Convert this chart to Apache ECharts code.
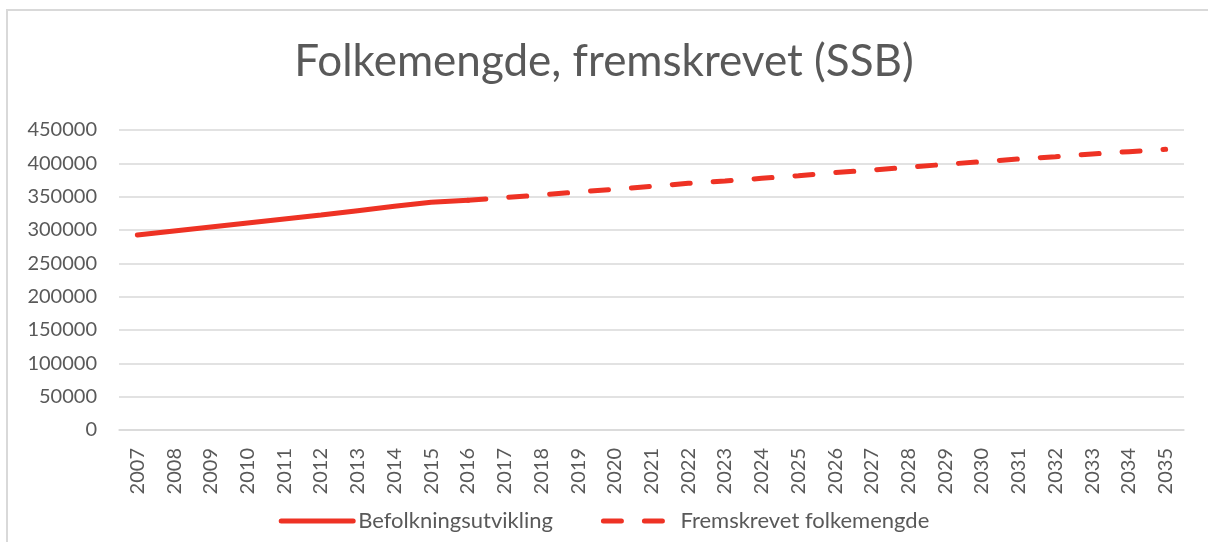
<!DOCTYPE html>
<html>
<head>
<meta charset="utf-8">
<script src="https://cdn.jsdelivr.net/npm/echarts@6/dist/echarts.min.js"></script>
<style>
  html, body { margin: 0; padding: 0; background: #fff; }
  #frame { position: absolute; left: 6px; top: 9px; width: 1220px; height: 560px;
           border-left: 2px solid #d9d9d9; border-top: 2px solid #d9d9d9; }
  #chart { position: absolute; left: 0; top: 0; width: 1208px; height: 542px; }
</style>
</head>
<body>
<div id="frame"></div>
<div id="chart"></div>
<script>
// årstall på x-aksen
var years = ['2007', '2008', '2009', '2010', '2011', '2012', '2013', '2014', '2015', '2016',
  '2017', '2018', '2019', '2020', '2021', '2022', '2023', '2024', '2025', '2026',
  '2027', '2028', '2029', '2030', '2031', '2032', '2033', '2034', '2035']

// 2007-2016, faktisk utvikling
var befolkning = [292500, 298500, 304500, 310500, 316500, 322500, 329000, 335500, 341500, 344500]

// 2016-2035, fremskrevet
var fremskrevet = [344500, 348500, 352500, 357000, 361000, 365500, 370000, 373500, 377500, 381500,
  386000, 390000, 394000, 398500, 402500, 406500, 410000, 414000, 417500, 421000]

var red = '#ee3224'
var grey = '#595959'
var font = 'Lato, "Open Sans", sans-serif'

// fyll ut med null så seriene havner på riktig år
var solidData = years.map(function (y, i) { return i < befolkning.length ? befolkning[i] : null })
var startIdx = years.indexOf('2016')
var dashData = years.map(function (y, i) { return i >= startIdx ? fremskrevet[i - startIdx] : null })

var myChart = echarts.init(document.getElementById('chart'))
myChart.setOption({
  animation: false,
  title: {
    text: 'Folkemengde, fremskrevet (SSB)',
    left: 'center',
    top: 35,
    textStyle: { color: grey, fontFamily: font, fontWeight: 'normal', fontSize: 44 }
  },
  legend: {
    bottom: 5,
    left: 'center',
    itemWidth: 72,
    itemHeight: 14,
    itemGap: 48,
    itemStyle: { opacity: 0 },
    lineStyle: { width: 5, cap: 'round' },
    textStyle: { color: grey, fontFamily: font, fontSize: 22 },
    data: ['Befolkningsutvikling', 'Fremskrevet folkemengde']
  },
  grid: { left: 119, right: 24, top: 130, bottom: 112 },
  xAxis: {
    type: 'category',
    data: years,
    axisLine: { lineStyle: { color: '#d9d9d9', width: 1.5 } },
    axisTick: { show: false },
    axisLabel: { rotate: 90, margin: 18, color: grey, fontFamily: font, fontSize: 20 }
  },
  yAxis: {
    type: 'value',
    min: 0,
    max: 450000,
    interval: 50000,
    axisLine: { show: false },
    axisTick: { show: false },
    axisLabel: {
      margin: 22, color: grey, fontFamily: font, fontSize: 20,
      formatter: function (v) { return String(v) }
    },
    splitLine: { lineStyle: { color: '#d9d9d9', width: 1.5 } }
  },
  series: [
    {
      name: 'Befolkningsutvikling',
      type: 'line',
      data: solidData,
      symbol: 'none',
      itemStyle: { color: 'rgba(0,0,0,0)' },
      lineStyle: { color: red, width: 5, cap: 'round' }
    },
    {
      name: 'Fremskrevet folkemengde',
      type: 'line',
      data: dashData,
      symbol: 'none',
      itemStyle: { color: 'rgba(0,0,0,0)' },
      lineStyle: { color: red, width: 5, type: [18, 23], cap: 'round' }
    }
  ]
})
</script>
</body>
</html>
